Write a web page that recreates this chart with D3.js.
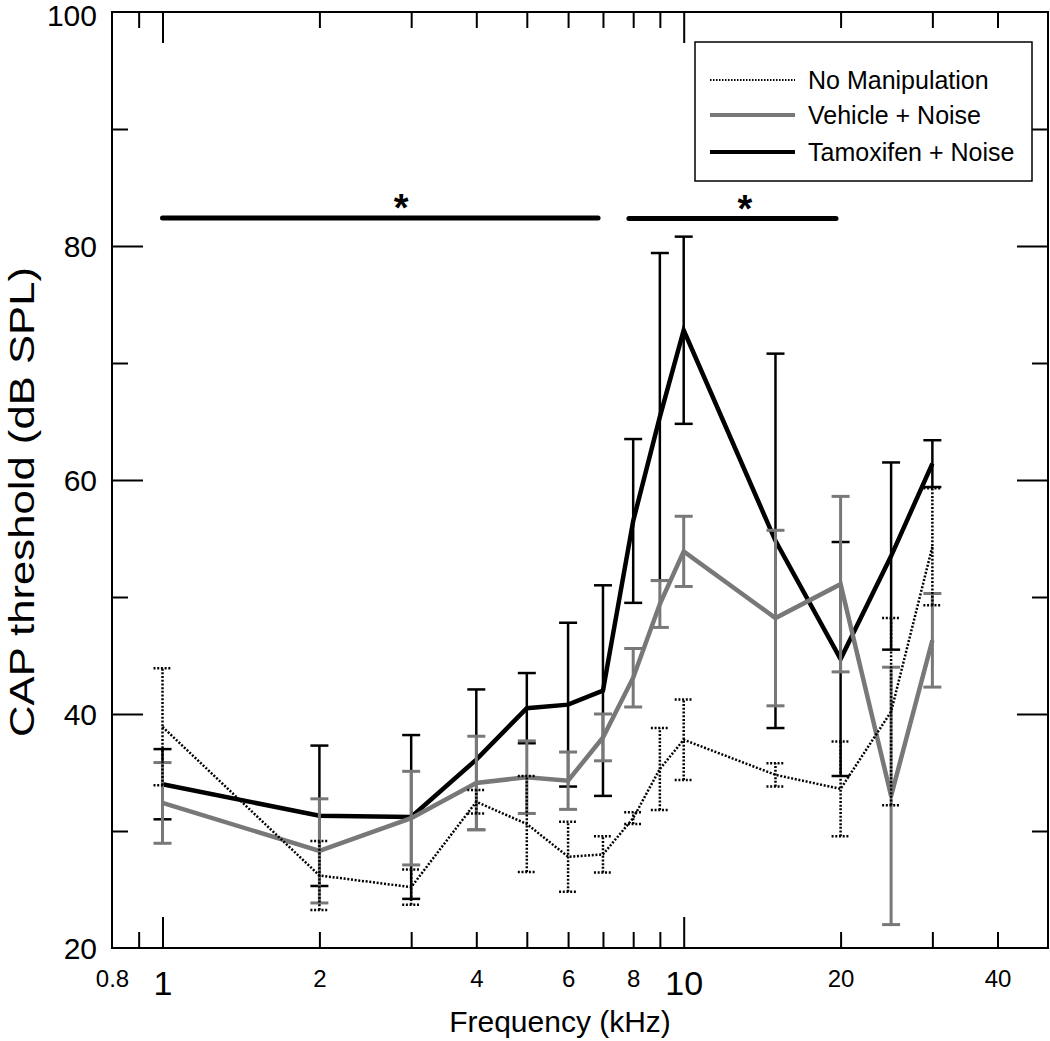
<!DOCTYPE html>
<html><head><meta charset="utf-8">
<script src="https://cdn.jsdelivr.net/npm/d3@7"></script>
<style>body{margin:0;background:#fff}svg{display:block}</style>
</head><body><svg id="c" width="1050" height="1041"></svg>
<script>
// ---- data ----
const freqs = [1, 2, 3, 4, 5, 6, 7, 8, 9, 10, 15, 20, 25, 30];
const noManipMean = [38.9, 26.2, 25.2, 32.5, 30.6, 27.8, 28.0, 31.1, 35.3, 37.8, 34.8, 33.6, 40.2, 54.3];
const noManipErr  = [5.0, 2.95, 1.5, 1.0, 4.1, 3.0, 1.55, 0.5, 3.5, 3.45, 1.0, 4.05, 8.0, 5.0];
const vehicleMean = [32.4, 28.3, 31.1, 34.1, 34.6, 34.3, 38.0, 43.1, 49.4, 53.9, 48.2, 51.1, 33.0, 46.3];
const vehicleErr  = [3.45, 4.45, 4.0, 4.0, 3.1, 2.45, 2.0, 2.5, 2.0, 3.0, 7.5, 7.5, 11.0, 4.0];
const tamoxMean   = [34.0, 31.3, 31.2, 36.1, 40.5, 40.8, 42.0, 56.5, 65.4, 72.8, 54.8, 44.7, 53.5, 61.4];
const tamoxErr    = [3.0, 6.0, 7.0, 6.0, 3.0, 7.0, 9.0, 7.0, 14.0, 8.0, 16.0, 10.0, 8.0, 2.0];
const seriesNames = ["No Manipulation", "Vehicle + Noise", "Tamoxifen + Noise"];
const sigBars = [{from: 1, to: 6.85, y: 82.4, star: 2.87}, {from: 7.85, to: 19.6, y: 82.35, star: 13.1}];
const xTickValues = [0.8, 0.9, 1, 2, 3, 4, 5, 6, 7, 8, 9, 10, 20, 30, 40];
const xTickLabels = {0.8: "0.8", 1: "1", 2: "2", 4: "4", 6: "6", 8: "8", 10: "10", 20: "20", 40: "40"};
const yTickValues = [20, 30, 40, 50, 60, 70, 80, 90, 100];
const yTickLabels = [20, 40, 60, 80, 100];

// ---- layout ----
const L = 112, R = 1048, T = 12, B = 948;
const svg = d3.select("#c");
const x = d3.scaleLog().domain([0.8, 50]).range([L, R]);
const y = d3.scaleLinear().domain([20, 100]).range([B, T]);
const FONT = "Liberation Sans, Arial, Helvetica, sans-serif";
const GRAY = "#787878";

const isMajorX = v => v === 1 || v === 10;
const isMajorY = v => yTickLabels.includes(v);

// bottom axis
const gB = svg.append("g").attr("transform", `translate(0,${B})`)
  .call(d3.axisBottom(x).tickValues(xTickValues).tickSizeOuter(0).tickSizeInner(-16).tickPadding(0)
        .tickFormat(v => xTickLabels[v] || ""));
// top axis
const gT = svg.append("g").attr("transform", `translate(0,${T})`)
  .call(d3.axisTop(x).tickValues(xTickValues).tickSizeOuter(0).tickSizeInner(-16).tickFormat(""));
// left axis
const gL = svg.append("g").attr("transform", `translate(${L},0)`)
  .call(d3.axisLeft(y).tickValues(yTickValues).tickSizeOuter(0).tickSizeInner(-16).tickPadding(14)
        .tickFormat(v => isMajorY(v) ? v : ""));
// right axis
const gR = svg.append("g").attr("transform", `translate(${R},0)`)
  .call(d3.axisRight(y).tickValues(yTickValues).tickSizeOuter(0).tickSizeInner(-16).tickFormat(""));

[gB, gT, gL, gR].forEach(g => { g.select(".domain").remove(); g.selectAll("line").attr("stroke", "#000").attr("stroke-width", 2); });
gB.selectAll(".tick line").attr("y2", d => d === 0.8 ? 0 : (isMajorX(d) ? -31 : -16));
gT.selectAll(".tick line").attr("y2", d => d === 0.8 ? 0 : (isMajorX(d) ? 31 : 16));
gL.selectAll(".tick line").attr("x2", d => (d === 20 || d === 100) ? 0 : (isMajorY(d) ? 31 : 16));
gR.selectAll(".tick line").attr("x2", d => (d === 20 || d === 100) ? 0 : (isMajorY(d) ? -31 : -16));

gB.selectAll(".tick text")
  .attr("font-family", FONT).attr("fill", "#000")
  .attr("font-size", d => isMajorX(d) ? 34 : 24)
  .attr("dy", null)
  .attr("y", d => isMajorX(d) ? 47 : 39);
gL.selectAll(".tick text")
  .attr("font-family", FONT).attr("fill", "#000").attr("font-size", 30)
  .attr("dy", d => d === 100 ? "0.46em" : "0.36em").attr("x", -15);

// frame
svg.append("rect").attr("x", L).attr("y", T).attr("width", R - L).attr("height", B - T)
  .attr("fill", "none").attr("stroke", "#000").attr("stroke-width", 2);

// axis titles
svg.append("text").attr("x", 560).attr("y", 1032).attr("text-anchor", "middle")
  .attr("font-family", FONT).attr("font-size", 30).text("Frequency (kHz)");
svg.append("text").attr("transform", `translate(34,${502}) rotate(-90)`).attr("text-anchor", "middle")
  .attr("font-family", FONT).attr("font-size", 35)
  .attr("textLength", 470).attr("lengthAdjust", "spacingAndGlyphs")
  .text("CAP threshold (dB SPL)");

// series
const series = [
  {mean: tamoxMean, err: tamoxErr, color: "#000", lw: 4.5, ew: 2.5, dash: null},
  {mean: vehicleMean, err: vehicleErr, color: GRAY, lw: 4.5, ew: 3, dash: null},
  {mean: noManipMean, err: noManipErr, color: "#000", lw: 2.5, ew: 2.5, dash: "2,1.7"}
];
const line = d3.line().x(d => x(d.f)).y(d => y(d.m));
const capW = 9;
series.forEach(s => {
  const pts = freqs.map((f, i) => ({f, m: s.mean[i], e: s.err[i]}));
  const g = svg.append("g");
  const eb = g.selectAll("g.eb").data(pts).join("g");
  eb.append("line").attr("x1", d => x(d.f)).attr("x2", d => x(d.f))
    .attr("y1", d => y(d.m - d.e)).attr("y2", d => y(d.m + d.e));
  eb.append("line").attr("x1", d => x(d.f) - capW).attr("x2", d => x(d.f) + capW)
    .attr("y1", d => y(d.m + d.e)).attr("y2", d => y(d.m + d.e));
  eb.append("line").attr("x1", d => x(d.f) - capW).attr("x2", d => x(d.f) + capW)
    .attr("y1", d => y(d.m - d.e)).attr("y2", d => y(d.m - d.e));
  eb.selectAll("line").attr("stroke", s.color).attr("stroke-width", s.ew)
    .attr("stroke-dasharray", s.dash);
  g.append("path").datum(pts).attr("d", line).attr("fill", "none")
    .attr("stroke", s.color).attr("stroke-width", s.lw)
    .attr("stroke-linejoin", "miter").attr("stroke-dasharray", s.dash);
});

// significance bars
sigBars.forEach(b => {
  svg.append("line").attr("x1", x(b.from)).attr("x2", x(b.to)).attr("y1", y(b.y)).attr("y2", y(b.y))
    .attr("stroke", "#000").attr("stroke-width", 5).attr("stroke-linecap", "round");
  svg.append("text").attr("x", x(b.star)).attr("y", y(b.y) + 3).attr("text-anchor", "middle")
    .attr("font-family", FONT).attr("font-weight", "bold").attr("font-size", 38).text("*");
});

// legend
const lg = svg.append("g");
lg.append("rect").attr("x", 695).attr("y", 42).attr("width", 337).attr("height", 139)
  .attr("fill", "#fff").attr("stroke", "#000").attr("stroke-width", 1.5);
const legendStyles = [
  {color: "#000", lw: 2, dash: "1.5,1.5"},
  {color: GRAY, lw: 4, dash: null},
  {color: "#000", lw: 4, dash: null}
];
const legendRowY = [80, 115, 152];
seriesNames.forEach((name, i) => {
  const st = legendStyles[i];
  lg.append("line").attr("x1", 710).attr("x2", 795).attr("y1", legendRowY[i]).attr("y2", legendRowY[i])
    .attr("stroke", st.color).attr("stroke-width", st.lw).attr("stroke-dasharray", st.dash);
  lg.append("text").attr("x", 808).attr("y", legendRowY[i]).attr("dy", "0.36em")
    .attr("font-family", FONT).attr("font-size", 25).text(name);
});
</script></body></html>
